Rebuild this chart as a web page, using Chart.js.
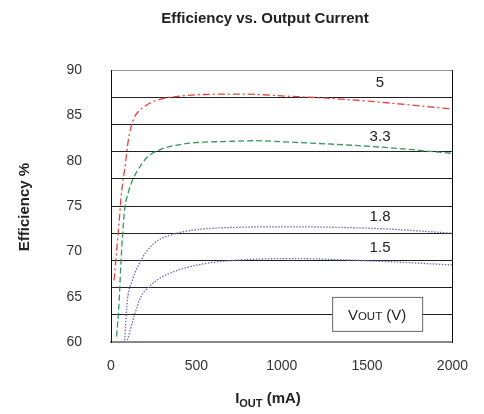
<!DOCTYPE html>
<html>
<head>
<meta charset="utf-8">
<script src="https://cdn.jsdelivr.net/npm/chart.js@4.4.0/dist/chart.umd.min.js"></script>
<style>
  html, body { margin: 0; padding: 0; background: #fff; }
  canvas { display: block; }
</style>
</head>
<body>
<canvas id="chart" width="484" height="414"></canvas>
<script>
const FONT = "'Liberation Sans', Arial, sans-serif";

// output current (mA) and efficiency (%)
const v5Current = [18, 33, 47, 59, 86, 100, 116, 132, 155, 214, 292, 390, 547, 750, 1047, 1300, 1576, 2000];
const v5Eff = [66.8, 70.1, 73.1, 76.0, 79.9, 82.1, 83.6, 84.6, 85.3, 86.2, 86.8, 87.1, 87.3, 87.35, 87.1, 86.85, 86.45, 85.7];

const v33Current = [33, 47, 57, 67, 80, 103, 125, 155, 214, 292, 410, 547, 653, 853, 988, 1576, 2000];
const v33Eff = [60.6, 64.3, 68.3, 71.6, 74.6, 76.6, 77.8, 78.9, 80.4, 81.25, 81.8, 82.05, 82.1, 82.2, 82.1, 81.5, 80.8];

const v18Current = [80, 96, 125, 175, 253, 351, 469, 655, 1047, 1576, 2000];
const v18Eff = [60.2, 64.6, 66.8, 69.0, 70.9, 71.8, 72.3, 72.6, 72.7, 72.5, 72.0];

const v15Current = [96, 135, 175, 224, 292, 390, 508, 655, 1047, 1576, 2000];
const v15Eff = [60.2, 62.8, 65.0, 66.1, 67.1, 67.9, 68.5, 68.9, 69.2, 68.9, 68.5];

const xTicks = [0, 500, 1000, 1500, 2000];
const yTicks = [60, 65, 70, 75, 80, 85, 90];
const curveLabels = ["5", "3.3", "1.8", "1.5"];
const labelPos = [[1576, 88.55], [1576, 82.6], [1576, 73.8], [1576, 70.4]];

const pts = (xs, ys) => xs.map((x, i) => ({ x: x, y: ys[i] }));

function curve(label, xs, ys, color, dash) {
  return {
    label: label,
    data: pts(xs, ys),
    borderColor: color,
    borderWidth: 1.3,
    borderDash: dash,
    pointRadius: 0,
    fill: false,
    cubicInterpolationMode: "monotone"
  };
}

const textPlugin = {
  id: "texts",
  afterDatasetsDraw(chart) {
    const ctx = chart.ctx;
    const xs = chart.scales.x, ys = chart.scales.y;
    ctx.save();
    ctx.fillStyle = "#222";
    ctx.textAlign = "center";
    ctx.textBaseline = "middle";
    ctx.font = "15px " + FONT;
    curveLabels.forEach((t, i) => {
      ctx.fillText(t, xs.getPixelForValue(labelPos[i][0]), ys.getPixelForValue(labelPos[i][1]));
    });

    // VOUT (V) box
    const bx = xs.getPixelForValue(1559), by = ys.getPixelForValue(63.1);
    ctx.fillStyle = "#fff";
    ctx.fillRect(bx - 45, by - 17, 90, 34);
    ctx.strokeStyle = "#666";
    ctx.lineWidth = 1;
    ctx.strokeRect(bx - 45 + 0.5, by - 17 + 0.5, 90, 34);
    ctx.fillStyle = "#222";
    ctx.textBaseline = "alphabetic";
    ctx.textAlign = "left";
    const big = "15px " + FONT, small = "11.5px " + FONT;
    ctx.font = big; const wV = ctx.measureText("V").width; const wP = ctx.measureText(" (V)").width;
    ctx.font = small; const wO = ctx.measureText("OUT").width;
    let tx = bx - (wV + wO + wP) / 2;
    const base = by + 6;
    ctx.font = big; ctx.fillText("V", tx, base); tx += wV;
    ctx.font = small; ctx.fillText("OUT", tx, base); tx += wO;
    ctx.font = big; ctx.fillText(" (V)", tx, base);

    // title
    ctx.textAlign = "center";
    ctx.textBaseline = "middle";
    ctx.font = "bold 15px " + FONT;
    ctx.fillText("Efficiency vs. Output Current", 265, 19);

    // y axis title
    ctx.save();
    ctx.translate(25, 207);
    ctx.rotate(-Math.PI / 2);
    ctx.fillText("Efficiency %", 0, 0);
    ctx.restore();

    // x axis title with subscript
    ctx.textAlign = "left";
    ctx.textBaseline = "alphabetic";
    const fB = "bold 15px " + FONT, fS = "bold 11px " + FONT;
    ctx.font = fB; const wI = ctx.measureText("I").width, wR = ctx.measureText(" (mA)").width;
    ctx.font = fS; const wS = ctx.measureText("OUT").width;
    let ax = 268 - (wI + wS + wR) / 2;
    const ab = 403;
    ctx.font = fB; ctx.fillText("I", ax, ab); ax += wI;
    ctx.font = fS; ctx.fillText("OUT", ax, ab + 4); ax += wS;
    ctx.font = fB; ctx.fillText(" (mA)", ax, ab);
    ctx.restore();
  }
};

new Chart(document.getElementById("chart"), {
  type: "line",
  data: {
    datasets: [
      curve("5", v5Current, v5Eff, "#e8413c", [7, 3, 2, 3]),
      curve("3.3", v33Current, v33Eff, "#35965e", [6, 3]),
      curve("1.8", v18Current, v18Eff, "#6a6aae", [1.5, 1.5]),
      curve("1.5", v15Current, v15Eff, "#6a6aae", [1.5, 1.5])
    ]
  },
  options: {
    responsive: false,
    animation: false,
    layout: { padding: { top: 70, right: 31, left: 0, bottom: 0 } },
    plugins: {
      legend: { display: false },
      tooltip: { enabled: false },
      title: { display: false }
    },
    scales: {
      x: {
        type: "linear",
        min: 0,
        max: 2000,
        afterBuildTicks: s => { s.ticks = xTicks.map(v => ({ value: v })); },
        afterFit: s => { s.height = 72; },
        grid: { display: false, drawTicks: false },
        border: { display: true, color: "#888", width: 2 },
        ticks: {
          color: "#333",
          font: { family: FONT, size: 14 },
          padding: 16,
          callback: v => String(v)
        }
      },
      y: {
        position: "left",
        min: 60,
        max: 90,
        afterBuildTicks: s => { s.ticks = yTicks.map(v => ({ value: v })); },
        afterFit: s => { s.width = 111; },
        grid: { display: false, drawTicks: false },
        border: { display: true, color: "#111", width: 1 },
        ticks: { color: "#333", font: { family: FONT, size: 14 }, padding: 29 }
      },
      yGrid: {
        position: "right",
        min: 60,
        max: 90,
        ticks: { display: false, stepSize: 3 },
        afterFit: s => { s.width = 0; },
        grid: {
          drawTicks: false,
          color: c => (c.tick.value >= 89.9 ? "#999" : "#222"),
          lineWidth: 1
        },
        border: { display: true, color: "#111", width: 1 }
      }
    }
  },
  plugins: [textPlugin]
});
</script>
</body>
</html>
